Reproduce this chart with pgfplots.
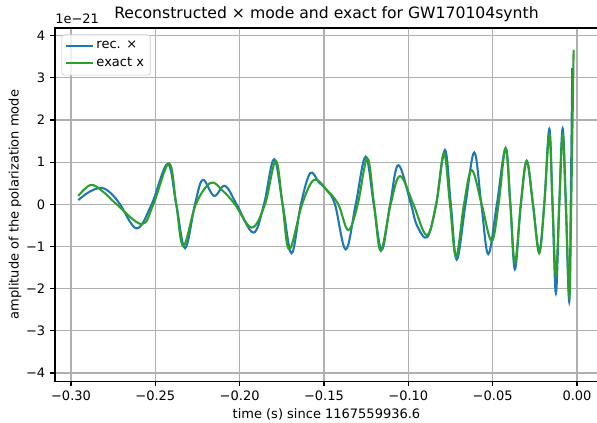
\documentclass[border=0pt]{standalone}
\usepackage{fontspec}
\setmainfont{DejaVu Sans}
\usepackage{pgfplots}
\pgfplotsset{compat=1.18}
\definecolor{mplblue}{HTML}{1F77B4}
\definecolor{mplgreen}{HTML}{2CA02C}
\definecolor{gridgray}{HTML}{B0B0B0}
\begin{document}
\begin{tikzpicture}
\path[use as bounding box] (-39.6bp,-29.5bp) rectangle (390.3bp,274.4bp);
\begin{axis}[
  name=ax,
  at={(0,0)}, anchor=south west,
  scale only axis, width=391bp, height=254.2bp,
  xmin=-0.3095, xmax=0.01245,
  ymin=-4.19, ymax=4.18,
  axis line style={line width=0.8bp},
  tick align=outside, tick pos=left,
  major tick length=3.5bp,
  every tick/.style={black, line width=0.8bp},
  grid=major,
  major grid style={color=gridgray, line width=0.8bp},
  xtick={-0.3,-0.25,-0.2,-0.15,-0.1,-0.05,0},
  xticklabels={−0.30,−0.25,−0.20,−0.15,−0.10,−0.05,0.00},
  ytick={-4,-3,-2,-1,0,1,2,3,4},
  yticklabels={−4,−3,−2,−1,0,1,2,3,4},
  ticklabel style={font=\fontsize{9.4}{11}\selectfont},
  xlabel={time (s) since 1167559936.6},
  ylabel={amplitude of the polarization mode},
  label style={font=\fontsize{9.4}{11}\selectfont},
  xlabel style={yshift=1bp},
  ylabel style={yshift=-3.5bp},
  title={Reconstructed × mode and exact for GW170104synth},
  title style={font=\fontsize{11.3}{13}\selectfont, yshift=-5bp},
  legend style={at={(0.012,0.982)}, anchor=north west, draw=gridgray!70,
    rounded corners=2bp, fill=white, fill opacity=0.8, text opacity=1,
    font=\fontsize{9.4}{11}\selectfont, inner sep=2.5bp, row sep=1bp},
  legend cell align=left,
  legend image code/.code={\draw[#1] (0bp,0bp) -- (19bp,0bp);},
]
\addplot[mplblue, line width=1.5bp, smooth, tension=0.6] coordinates {
(-0.2957,0.10) (-0.2890,0.30) (-0.2818,0.39) (-0.2760,0.25) (-0.2709,0.0)
(-0.2610,-0.57) (-0.2522,0.0) (-0.2427,0.96) (-0.2376,0.0) (-0.2324,-1.04)
(-0.2265,0.0) (-0.2219,0.58) (-0.2152,0.20) (-0.2087,0.44) (-0.2018,0.0)
(-0.1919,-0.67) (-0.1856,0.0) (-0.1796,1.07) (-0.1745,0.0) (-0.1692,-1.16)
(-0.1637,0.0) (-0.1582,0.74) (-0.1530,0.52) (-0.1484,0.34) (-0.1435,0.0)
(-0.1371,-1.07) (-0.1312,0.0) (-0.1253,1.13) (-0.1205,0.0) (-0.1158,-1.08)
(-0.1108,0.0) (-0.1059,0.93) (-0.0984,0.0) (-0.0950,-0.49) (-0.0888,-0.78)
(-0.0835,0.0) (-0.0783,1.29) (-0.0748,0.0) (-0.0713,-1.31) (-0.0661,0.0)
(-0.0609,1.23) (-0.0567,0.0) (-0.0526,-1.18) (-0.0475,0.0) (-0.0423,1.33)
(-0.0395,0.0) (-0.0368,-1.54) (-0.0333,0.0) (-0.0298,1.03) (-0.0261,0.0)
(-0.0224,-1.10) (-0.0194,0.0) (-0.0164,1.79) (-0.0145,0.0) (-0.0125,-2.11)
(-0.0105,0.0) (-0.0085,1.80) (-0.0066,0.0) (-0.0046,-2.31) (-0.0037,0.0)
(-0.0028,3.23)
};
\addlegendentry{rec. ×}
\addplot[mplgreen, line width=1.5bp, smooth, tension=0.6] coordinates {
(-0.2957,0.20) (-0.2883,0.46) (-0.2810,0.30) (-0.2729,0.0) (-0.2581,-0.47)
(-0.2512,0.0) (-0.2419,0.97) (-0.2376,0.0) (-0.2334,-0.99) (-0.2260,0.0)
(-0.2172,0.51) (-0.2100,0.32) (-0.2028,0.0) (-0.1929,-0.55) (-0.1850,0.0)
(-0.1786,1.03) (-0.1746,0.0) (-0.1706,-1.07) (-0.1630,0.0) (-0.1559,0.58)
(-0.1484,0.34) (-0.1415,0.0) (-0.1356,-0.61) (-0.1300,0.0) (-0.1243,1.09)
(-0.1203,0.0) (-0.1164,-1.10) (-0.1105,0.0) (-0.1049,0.67) (-0.0970,0.0)
(-0.0891,-0.73) (-0.0835,0.0) (-0.0789,1.21) (-0.0753,0.0) (-0.0717,-1.24)
(-0.0670,0.0) (-0.0624,0.81) (-0.0565,0.0) (-0.0506,-0.87) (-0.0465,0.0)
(-0.0423,1.33) (-0.0395,0.0) (-0.0368,-1.38) (-0.0333,0.0) (-0.0298,1.03)
(-0.0261,0.0) (-0.0224,-1.16) (-0.0194,0.0) (-0.0164,1.65) (-0.0145,0.0)
(-0.0125,-1.68) (-0.0105,0.0) (-0.0085,1.65) (-0.0066,0.0) (-0.0046,-2.19)
(-0.0034,0.0) (-0.0020,3.66)
};
\addlegendentry{exact x}
\end{axis}
\node[anchor=south west, inner sep=0pt, font=\fontsize{9.4}{11}\selectfont]
  at ([yshift=3bp]ax.north west) {1e−21};
\end{tikzpicture}
\end{document}
